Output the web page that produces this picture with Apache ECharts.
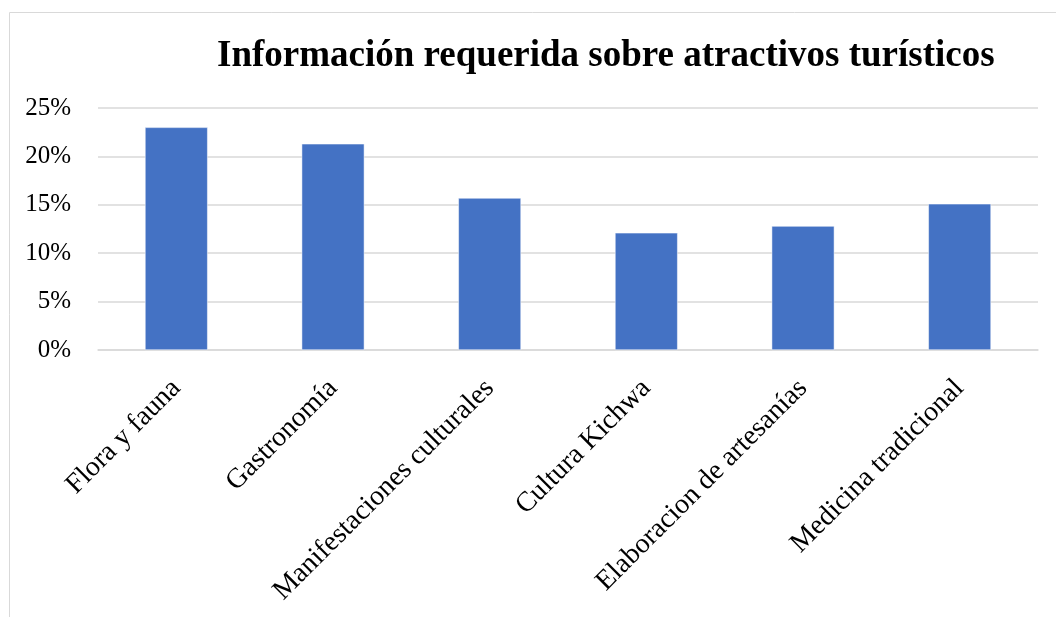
<!DOCTYPE html>
<html>
<head>
<meta charset="utf-8">
<script src="https://cdn.jsdelivr.net/npm/echarts@6/dist/echarts.min.js"></script>
<style>
  html, body { margin: 0; padding: 0; background: #fff; }
  #chart { width: 1056px; height: 617px; }
</style>
</head>
<body>
<div id="chart"></div>
<script>
const titleText = 'Información requerida sobre atractivos turísticos'
const categories = [
  'Flora y fauna',
  'Gastronomía',
  'Manifestaciones culturales',
  'Cultura Kichwa',
  'Elaboracion de artesanías',
  'Medicina tradicional'
]
// percent values
const values = [23.0, 21.3, 15.7, 12.1, 12.8, 15.1]

const serif = '"Liberation Serif", "Times New Roman", serif'
const gridColor = '#D9D9D9'

const chart = echarts.init(document.getElementById('chart'))
chart.setOption({
  animation: false,
  textStyle: { fontFamily: serif },
  title: {
    text: titleText,
    left: 212,
    top: 33,
    textStyle: {
      fontFamily: serif,
      fontWeight: 'bold',
      fontSize: 37,
      color: '#000'
    }
  },
  graphic: [
    {
      type: 'line',
      shape: { x1: 9.5, y1: 12.5, x2: 1056, y2: 12.5 },
      style: { stroke: gridColor, lineWidth: 1 }
    },
    {
      type: 'line',
      shape: { x1: 9.5, y1: 12.5, x2: 9.5, y2: 617 },
      style: { stroke: gridColor, lineWidth: 1 }
    }
  ],
  grid: {
    left: 98,
    right: 18,
    top: 108,
    bottom: 267
  },
  xAxis: {
    type: 'category',
    data: categories,
    axisTick: { show: false },
    axisLine: { lineStyle: { color: gridColor, width: 1.5 } },
    axisLabel: {
      interval: 0,
      rotate: 45,
      margin: 34,
      color: '#000',
      fontSize: 28,
      fontFamily: serif
    }
  },
  yAxis: {
    type: 'value',
    min: 0,
    max: 25,
    interval: 5,
    axisLine: { show: false },
    axisTick: { show: false },
    splitLine: { lineStyle: { color: gridColor, width: 1.5 } },
    axisLabel: {
      margin: 27,
      color: '#000',
      fontSize: 25,
      fontFamily: serif,
      formatter: '{value}%'
    }
  },
  series: [{
    type: 'bar',
    data: values,
    barWidth: '40%',
    itemStyle: {
      color: '#4472C4',
      borderColor: '#ffffff',
      borderWidth: 0.5
    }
  }]
})
</script>
</body>
</html>
